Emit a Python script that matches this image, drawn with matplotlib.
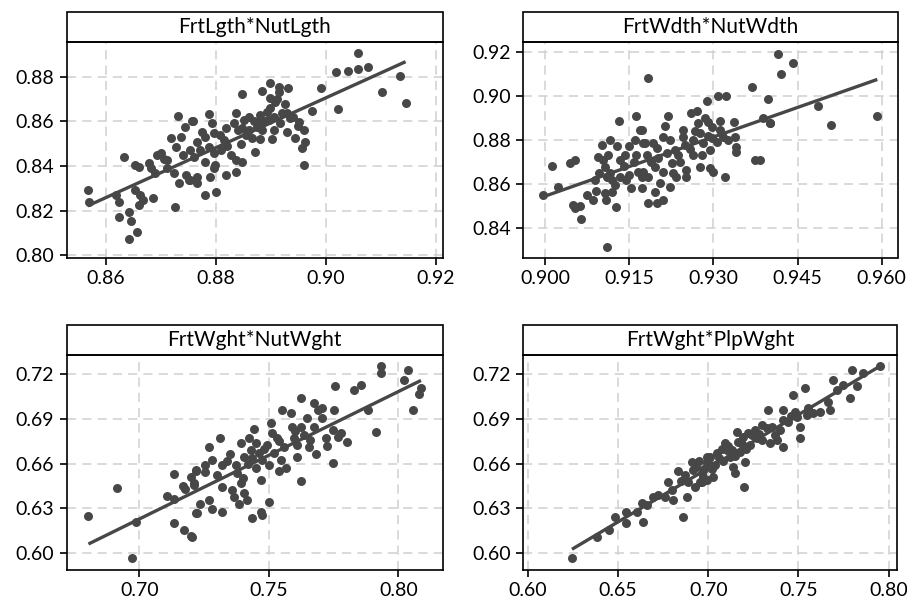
import numpy as np
import matplotlib.pyplot as plt
from matplotlib.patches import Rectangle
from matplotlib.ticker import FormatStrFormatter

plt.rcParams['font.family'] = ['Lato', 'DejaVu Sans']

# FrtLgth*NutLgth
lgth = [(0.8567, 0.8292), (0.857, 0.8237), (0.8633, 0.8442), (0.8731, 0.8625), (0.8744, 0.8577),
        (0.8757, 0.8602), (0.8718, 0.8524), (0.8727, 0.8487), (0.8736, 0.8532), (0.8654, 0.8404),
        (0.866, 0.8397), (0.8679, 0.8412), (0.8682, 0.839), (0.8694, 0.845), (0.870, 0.8457),
        (0.8712, 0.8427), (0.8712, 0.839), (0.8724, 0.8367), (0.8733, 0.8322), (0.8745, 0.836),
        (0.8751, 0.8337), (0.8618, 0.827), (0.8624, 0.824), (0.8653, 0.8292), (0.8663, 0.827),
        (0.8667, 0.8247), (0.866, 0.8225), (0.8685, 0.8255), (0.8624, 0.8172), (0.8642, 0.8195),
        (0.8645, 0.8154), (0.8657, 0.8102), (0.8642, 0.8071), (0.8725, 0.8217),
        (0.8759, 0.8602), (0.8787, 0.8634), (0.8793, 0.8595), (0.8781, 0.8532), (0.8796, 0.8547),
        (0.8766, 0.8509), (0.8754, 0.8472), (0.8772, 0.8472), (0.8787, 0.8487), (0.8796, 0.8457),
        (0.876, 0.8442), (0.8766, 0.8352), (0.8766, 0.8322), (0.8754, 0.8337), (0.8781, 0.827),
        (0.8801, 0.8282), (0.879, 0.8352), (0.8796, 0.839), (0.8799, 0.8404), (0.8818, 0.836),
        (0.8836, 0.8374), (0.8827, 0.845), (0.8836, 0.8427), (0.8848, 0.8419), (0.8815, 0.8517),
        (0.8818, 0.857), (0.8833, 0.8592), (0.8836, 0.864), (0.8851, 0.8607), (0.8848, 0.857),
        (0.886, 0.8562), (0.8866, 0.8524), (0.8872, 0.8464), (0.8875, 0.8574), (0.8884, 0.8562),
        (0.8848, 0.8724), (0.8884, 0.8739), (0.8881, 0.8629), (0.8893, 0.8644), (0.8899, 0.8659),
        (0.8896, 0.8607), (0.8905, 0.8562), (0.8902, 0.852), (0.8899, 0.8775), (0.8914, 0.8757),
        (0.8899, 0.8704), (0.8908, 0.8689), (0.8914, 0.8734), (0.8932, 0.8749), (0.8917, 0.8592),
        (0.8929, 0.8637), (0.8935, 0.8614), (0.8951, 0.8599), (0.896, 0.8562), (0.8929, 0.8554),
        (0.8944, 0.8524), (0.8963, 0.8509), (0.8957, 0.8479), (0.8961, 0.8404), (0.8975, 0.8649),
        (0.8991, 0.8752), (0.9019, 0.8821), (0.904, 0.8828), (0.9059, 0.8906), (0.9059, 0.8834),
        (0.9077, 0.8846), (0.9023, 0.8655), (0.9102, 0.8731), (0.9135, 0.8806), (0.9145, 0.8684),
        (0.8775, 0.8555), (0.8808, 0.8540), (0.8820, 0.8490), (0.8845, 0.8500), (0.8855, 0.8540),
        (0.8870, 0.8600), (0.8880, 0.8520), (0.8890, 0.8600), (0.8905, 0.8620), (0.8920, 0.8640),
        (0.8940, 0.8620), (0.8925, 0.8680), (0.8880, 0.8600), (0.8860, 0.8620), (0.8840, 0.8560),
        (0.8810, 0.8470), (0.8780, 0.8420), (0.8740, 0.8450), (0.8705, 0.8430), (0.8690, 0.8370),
        (0.8950, 0.8580), (0.8912, 0.8700)]

# FrtWdth*NutWdth
wdth = [(0.8997, 0.855), (0.9024, 0.8588), (0.9012, 0.8682), (0.9045, 0.8694), (0.9053, 0.8709),
        (0.905, 0.8505), (0.9053, 0.849), (0.9062, 0.850), (0.9065, 0.8439), (0.9074, 0.855),
        (0.9085, 0.8527), (0.9089, 0.8618), (0.9097, 0.8649), (0.9091, 0.857), (0.9107, 0.8558),
        (0.9109, 0.8527), (0.9126, 0.8497), (0.9111, 0.8312), (0.9101, 0.8777), (0.9116, 0.880),
        (0.9129, 0.8773), (0.9095, 0.8724), (0.9104, 0.8709), (0.9113, 0.8732), (0.9107, 0.8679),
        (0.911, 0.8633), (0.9116, 0.8649), (0.9125, 0.8595), (0.9119, 0.8565), (0.9134, 0.8709),
        (0.9142, 0.8732), (0.9134, 0.8633), (0.9145, 0.8618), (0.9154, 0.858), (0.9132, 0.8886),
        (0.9163, 0.8909), (0.915, 0.8773), (0.916, 0.880), (0.9169, 0.8845), (0.9163, 0.8732),
        (0.9166, 0.8656), (0.9172, 0.8633), (0.9175, 0.8785),
        (0.9184, 0.9083), (0.9172, 0.8845), (0.9172, 0.858), (0.9178, 0.8785), (0.9181, 0.8732),
        (0.9175, 0.8656), (0.9184, 0.8633), (0.9193, 0.8785), (0.9196, 0.8679), (0.9199, 0.8762),
        (0.9196, 0.8565), (0.9184, 0.8512), (0.9199, 0.8512), (0.9211, 0.8527), (0.9205, 0.8603),
        (0.9211, 0.8656), (0.9211, 0.8815), (0.9214, 0.8864), (0.922, 0.8909), (0.9217, 0.874),
        (0.9223, 0.880), (0.9223, 0.8588), (0.9226, 0.8694), (0.9228, 0.8649), (0.9231, 0.8755),
        (0.9237, 0.8732), (0.9234, 0.8633), (0.9246, 0.8845), (0.9246, 0.8815), (0.9252, 0.8664),
        (0.9252, 0.8633), (0.9249, 0.8777), (0.9261, 0.8924), (0.927, 0.8933), (0.9264, 0.880),
        (0.9264, 0.8732), (0.9273, 0.8876), (0.9276, 0.883), (0.9276, 0.8679), (0.9282, 0.8785),
        (0.9279, 0.8732), (0.9285, 0.8899), (0.9288, 0.8979), (0.9291, 0.8883), (0.9294, 0.8755),
        (0.9297, 0.8808), (0.930, 0.8656), (0.9294, 0.8671), (0.9297, 0.886), (0.9308, 0.9001),
        (0.9322, 0.9001), (0.9312, 0.8888), (0.9312, 0.8845), (0.9318, 0.8815), (0.9306, 0.8792),
        (0.932, 0.863), (0.9326, 0.880), (0.9337, 0.8883), (0.9338, 0.8815), (0.9341, 0.877),
        (0.934, 0.8747), (0.9368, 0.904), (0.9374, 0.8709), (0.9383, 0.8709), (0.9389, 0.8899),
        (0.9398, 0.8985), (0.9401, 0.8876), (0.9416, 0.9191), (0.9442, 0.9151), (0.9421, 0.9099),
        (0.9401, 0.8879), (0.9487, 0.8956), (0.951, 0.887), (0.9592, 0.8909),
        (0.9140, 0.8680), (0.9158, 0.8700), (0.9188, 0.8700), (0.9202, 0.8720), (0.9240, 0.8700),
        (0.9258, 0.8760), (0.9268, 0.8840), (0.9290, 0.8820), (0.9120, 0.8620), (0.9150, 0.8640)]

# FrtWght*NutWght
nutw = [(0.6804, 0.6247), (0.6914, 0.6437), (0.6987, 0.6209), (0.6972, 0.5962), (0.7133, 0.6202),
        (0.7174, 0.6153), (0.720, 0.6112), (0.7135, 0.6529), (0.7107, 0.6381), (0.7133, 0.6359),
        (0.7169, 0.6449), (0.7178, 0.6426), (0.720, 0.6511), (0.721, 0.6455), (0.7217, 0.6556),
        (0.7217, 0.6265), (0.7204, 0.6108), (0.7223, 0.6265), (0.7236, 0.6328), (0.7217, 0.655),
        (0.721, 0.6467), (0.7255, 0.659), (0.7255, 0.6545), (0.7268, 0.6709), (0.7281, 0.6624),
        (0.732, 0.659), (0.7311, 0.677), (0.7268, 0.6354), (0.7281, 0.6292), (0.732, 0.6276),
        (0.732, 0.6444), (0.7352, 0.6664), (0.7359, 0.6422), (0.7365, 0.6377), (0.7384, 0.6328),
        (0.7391, 0.6736), (0.7372, 0.659), (0.7378, 0.6534), (0.7391, 0.6467), (0.7404, 0.6646),
        (0.7404, 0.640), (0.7417, 0.6354), (0.7423, 0.677), (0.743, 0.6691), (0.7436, 0.6635),
        (0.7436, 0.6231), (0.7442, 0.6832), (0.7449, 0.6736), (0.7449, 0.6568), (0.7462, 0.6669),
        (0.7468, 0.6489), (0.7468, 0.6276), (0.7475, 0.6254), (0.7475, 0.6624), (0.7494, 0.6724),
        (0.750, 0.6343), (0.7507, 0.6875), (0.750, 0.659), (0.7514, 0.6803), (0.752, 0.6669),
        (0.7533, 0.677), (0.7539, 0.655), (0.7546, 0.6624), (0.7552, 0.696), (0.7558, 0.6713),
        (0.7565, 0.6568), (0.7584, 0.6937), (0.7591, 0.6848), (0.7597, 0.677), (0.761, 0.6724),
        (0.761, 0.6646), (0.7623, 0.7038), (0.7623, 0.6848), (0.7623, 0.6484), (0.7636, 0.6792),
        (0.7649, 0.6904), (0.7655, 0.6713), (0.7675, 0.7005), (0.7675, 0.6848), (0.7681, 0.6664),
        (0.7688, 0.696), (0.7707, 0.6904), (0.7707, 0.6971), (0.772, 0.677), (0.7724, 0.6718),
        (0.7746, 0.6825), (0.7752, 0.696), (0.7755, 0.7121), (0.7749, 0.6606), (0.7765, 0.678),
        (0.7778, 0.6803), (0.7801, 0.6747), (0.7829, 0.7094), (0.7855, 0.7128), (0.7881, 0.696),
        (0.7913, 0.6814), (0.7933, 0.7256), (0.7933, 0.7207), (0.8023, 0.7162), (0.8038, 0.7229),
        (0.8058, 0.696), (0.8081, 0.7066), (0.8087, 0.7106),
        (0.7340, 0.6620), (0.7420, 0.6600), (0.7480, 0.6700), (0.7540, 0.6750), (0.7600, 0.6820),
        (0.7660, 0.6760), (0.7400, 0.6500), (0.7300, 0.6520)]

# FrtWght*PlpWght
plpw = [(0.6244, 0.5962), (0.6383, 0.6108), (0.645, 0.6153), (0.6482, 0.6242), (0.6543, 0.6276),
        (0.6543, 0.6202), (0.6602, 0.6276), (0.663, 0.6332), (0.6639, 0.6209), (0.6658, 0.6321),
        (0.6694, 0.6377), (0.6722, 0.6388), (0.6759, 0.6377), (0.6778, 0.6478), (0.6806, 0.6354),
        (0.6797, 0.6422), (0.6833, 0.655), (0.6861, 0.6242), (0.688, 0.6377), (0.6889, 0.6478),
        (0.6908, 0.6612), (0.6917, 0.6556), (0.6926, 0.6444), (0.6954, 0.6478), (0.6963, 0.6534),
        (0.6991, 0.6646), (0.6991, 0.6489), (0.6963, 0.6478), (0.6972, 0.6511), (0.6991, 0.6601),
        (0.7028, 0.6511), (0.701, 0.6646), (0.7047, 0.6669), (0.7037, 0.659), (0.7093, 0.6736),
        (0.7102, 0.6691), (0.7121, 0.6646), (0.7139, 0.6579), (0.7148, 0.6534), (0.7158, 0.6814),
        (0.7167, 0.6747), (0.7176, 0.6679), (0.7194, 0.678), (0.7204, 0.6612), (0.7198, 0.644),
        (0.7218, 0.6803), (0.7232, 0.6724), (0.7259, 0.6825), (0.7269, 0.677), (0.7296, 0.6758),
        (0.7324, 0.6837), (0.7333, 0.696), (0.7343, 0.6736), (0.7352, 0.6848), (0.737, 0.6792),
        (0.738, 0.6758), (0.7398, 0.6825), (0.7413, 0.696), (0.7413, 0.6893), (0.7417, 0.6709),
        (0.7472, 0.7061), (0.7481, 0.6949), (0.7491, 0.6915), (0.7509, 0.6848), (0.7509, 0.677),
        (0.7537, 0.7106), (0.7547, 0.6926), (0.7556, 0.6971), (0.7583, 0.6937), (0.7621, 0.6949),
        (0.7667, 0.7016), (0.7676, 0.696), (0.7694, 0.7162), (0.7713, 0.7094), (0.775, 0.7128),
        (0.7787, 0.7038), (0.7796, 0.7229), (0.7824, 0.7121), (0.7858, 0.7207), (0.795, 0.7256),
        (0.6930, 0.6580), (0.6950, 0.6620), (0.6975, 0.6560), (0.7005, 0.6600), (0.7060, 0.6640),
        (0.7075, 0.6700), (0.7110, 0.6720), (0.7130, 0.6690), (0.7185, 0.6730), (0.7240, 0.6790),
        (0.6850, 0.6480), (0.6870, 0.6520), (0.7020, 0.6560), (0.7080, 0.6620), (0.7150, 0.6650),
        (0.7210, 0.6700), (0.7280, 0.6800), (0.7300, 0.6860), (0.7440, 0.6880), (0.7460, 0.6920)]

panels = [lgth, wdth, nutw, plpw]
titles = ['FrtLgth*NutLgth', 'FrtWdth*NutWdth', 'FrtWght*NutWght', 'FrtWght*PlpWght']
xticks = [[0.86, 0.88, 0.90, 0.92], [0.900, 0.915, 0.930, 0.945, 0.960],
          [0.70, 0.75, 0.80], [0.60, 0.65, 0.70, 0.75, 0.80]]
yticks = [[0.80, 0.82, 0.84, 0.86, 0.88], [0.84, 0.86, 0.88, 0.90, 0.92],
          [0.60, 0.63, 0.66, 0.69, 0.72], [0.60, 0.63, 0.66, 0.69, 0.72]]
xfmt = ['%.2f', '%.3f', '%.2f', '%.2f']
xlims = [(0.8529, 0.9213), (0.89614, 0.9628), (0.672, 0.8172), (0.5974, 0.8047)]
ylims = [(0.7987, 0.8957), (0.8264, 0.9245), (0.5884, 0.7332), (0.5884, 0.7332)]

W, H = 907, 606
boxes = [(66.7, 443, 42, 258), (523.3, 897.5, 42, 258),
         (66.7, 443, 354.7, 570), (523.3, 897, 354.7, 570)]

fig = plt.figure(figsize=(W / 100, H / 100), dpi=100)
col = '#474747'

for i in range(4):
    l, r, t, b = boxes[i]
    ax = fig.add_axes([l / W, 1 - b / H, (r - l) / W, (b - t) / H])
    pts = np.array(panels[i])
    x, y = pts[:, 0], pts[:, 1]
    ax.scatter(x, y, s=42, color=col, linewidths=0, zorder=3)
    fit = np.polyfit(x, y, 1)
    xs = np.array([x.min(), x.max()])
    ax.plot(xs, np.polyval(fit, xs), color=col, lw=2.4, zorder=4, solid_capstyle='butt')

    ax.set_xlim(xlims[i])
    ax.set_ylim(ylims[i])
    ax.set_xticks(xticks[i])
    ax.set_yticks(yticks[i])
    ax.xaxis.set_major_formatter(FormatStrFormatter(xfmt[i]))
    ax.yaxis.set_major_formatter(FormatStrFormatter('%.2f'))
    ax.grid(True, ls=(0, (6, 4)), color='#d0d0d0', lw=1.1)
    ax.set_axisbelow(True)
    ax.tick_params(direction='out', length=5, width=1.2, labelsize=14, pad=4)
    for s in ax.spines.values():
        s.set_linewidth(1.2)

    sh = 30 / (b - t)
    ax.add_patch(Rectangle((0, 1), 1, sh, transform=ax.transAxes, clip_on=False,
                           facecolor='white', edgecolor='black', lw=1.2))
    ax.text(0.5, 1 + sh / 2, titles[i], transform=ax.transAxes, ha='center', va='center',
            fontsize=15)

fig.savefig('out.png', dpi=100)
